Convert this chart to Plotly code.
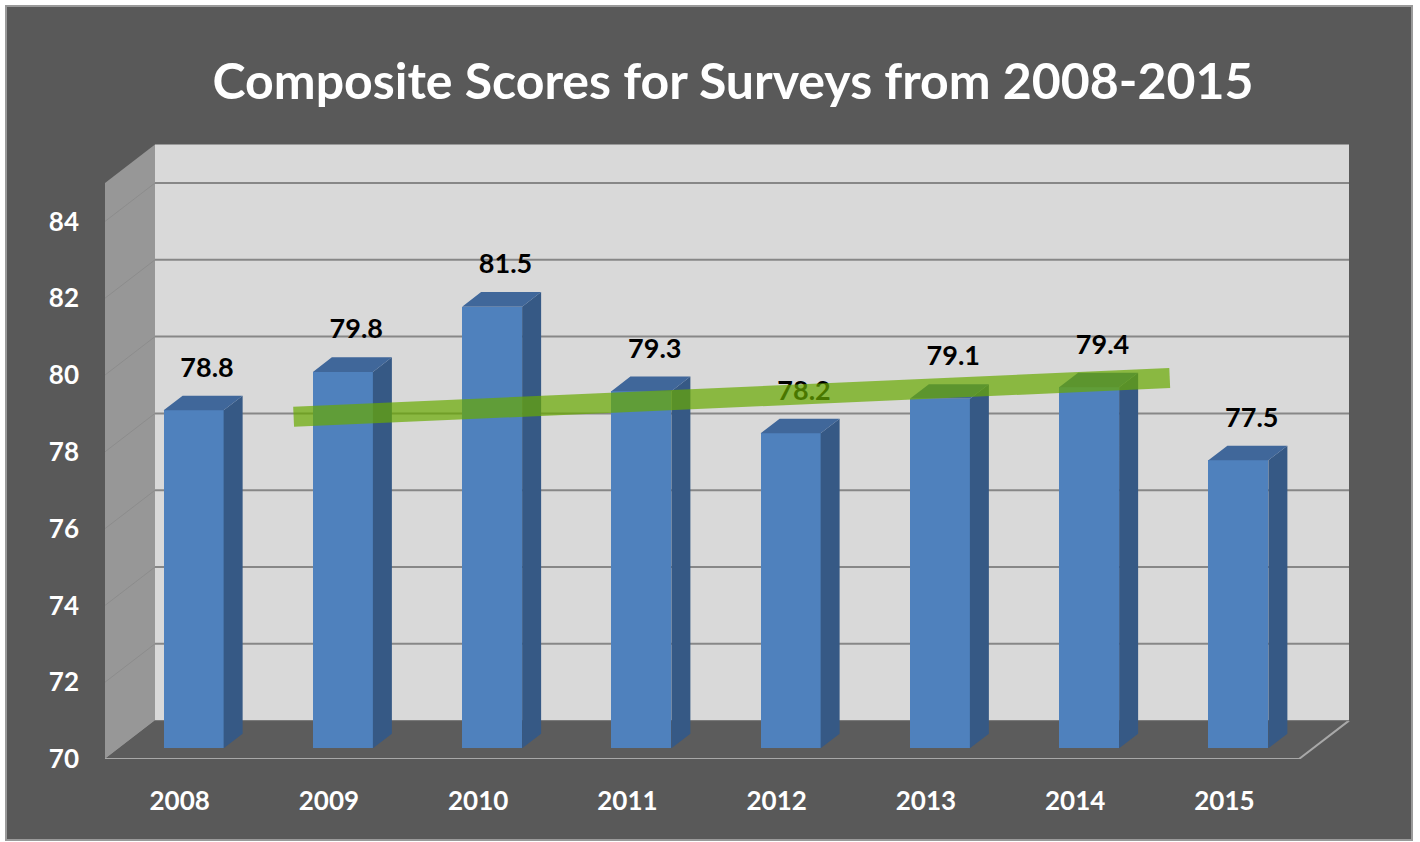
import plotly.graph_objects as go

# ---- data -------------------------------------------------------------
years = ["2008", "2009", "2010", "2011", "2012", "2013", "2014", "2015"]
scores = [78.8, 79.8, 81.5, 79.3, 78.2, 79.1, 79.4, 77.5]
y_ticks = [70, 72, 74, 76, 78, 80, 82, 84]
# green trend band: start/end position (category index) and score
trend_pos = [0.67, 6.54]
trend_scores = [78.63, 79.64]

title = "Composite Scores for Surveys from 2008-2015"

# ---- geometry of the pseudo-3D box ------------------------------------
W, H = 1420, 842
M_L, M_R, M_T, M_B = 105, 20, 120, 83
PX_CAT = 149.25          # pixels per category on the front plane
PX_UNIT = 38.4           # pixels per score unit
Y_BASE = 70
WALL_TOP = 85
x_rng = [-0.5, -0.5 + (W - M_L - M_R) / PX_CAT]
y_rng = [Y_BASE, Y_BASE + (H - M_T - M_B) / PX_UNIT]

DX_WALL = 50 / PX_CAT     # depth offset of back wall (x, in categories)
DY_WALL = 38.4 / PX_UNIT  # depth offset of back wall (y, in score units)
F_FRONT, F_BACK = 0.28, 0.66   # bar front/back planes as fraction of depth
BAR_W = 60 / PX_CAT

n = len(years)
x_lo, x_hi = -0.5, n - 0.5

C_BG = "#595959"
C_WALL = "#d9d9d9"
C_SIDEWALL = "#979797"
C_GRID = "#878787"
C_FRONT = "#4f81bd"
C_SIDE = "#365985"
C_TOP = "#40679a"

fig = go.Figure()
shapes = []


def px_to_paper(px, py):
    return (px - M_L) / (W - M_L - M_R), (H - M_B - py) / (H - M_T - M_B)


# outer chart frame
fx0, fy0 = px_to_paper(6, 840)
fx1, fy1 = px_to_paper(1412, 6)
shapes.append(dict(type="rect", xref="paper", yref="paper", x0=fx0, y0=fy0,
                   x1=fx1, y1=fy1, fillcolor=C_BG,
                   line=dict(color="#9a9a9a", width=2), layer="below"))

# back wall
shapes.append(dict(type="rect", xref="x", yref="y",
                   x0=x_lo + DX_WALL, x1=x_hi + DX_WALL,
                   y0=Y_BASE + DY_WALL, y1=WALL_TOP + DY_WALL,
                   fillcolor=C_WALL, line=dict(width=0), layer="below"))
# left side wall
shapes.append(dict(type="path", xref="x", yref="y",
                   path=(f"M{x_lo},{Y_BASE} L{x_lo},{WALL_TOP} "
                         f"L{x_lo + DX_WALL},{WALL_TOP + DY_WALL} "
                         f"L{x_lo + DX_WALL},{Y_BASE + DY_WALL} Z"),
                   fillcolor=C_SIDEWALL, line=dict(width=0), layer="below"))
# floor
shapes.append(dict(type="path", xref="x", yref="y",
                   path=(f"M{x_lo},{Y_BASE} L{x_hi},{Y_BASE} "
                         f"L{x_hi + DX_WALL},{Y_BASE + DY_WALL} "
                         f"L{x_lo + DX_WALL},{Y_BASE + DY_WALL} Z"),
                   fillcolor="#5c5c5c", line=dict(width=0), layer="below"))
# floor edges
shapes.append(dict(type="path", xref="x", yref="y",
                   path=(f"M{x_lo},{Y_BASE} L{x_hi},{Y_BASE} "
                         f"L{x_hi + DX_WALL},{Y_BASE + DY_WALL}"),
                   line=dict(color="#a8a8a8", width=2), layer="below"))

# gridlines on back wall and side wall
for v in y_ticks[1:]:
    shapes.append(dict(type="line", xref="x", yref="y",
                       x0=x_lo + DX_WALL, x1=x_hi + DX_WALL,
                       y0=v + DY_WALL, y1=v + DY_WALL,
                       line=dict(color=C_GRID, width=2), layer="below"))
    shapes.append(dict(type="line", xref="x", yref="y",
                       x0=x_lo, x1=x_lo + DX_WALL,
                       y0=v, y1=v + DY_WALL,
                       line=dict(color="#8c8c8c", width=1), layer="below"))
# back edge of the floor
shapes.append(dict(type="line", xref="x", yref="y",
                   x0=x_lo + DX_WALL, x1=x_hi + DX_WALL,
                   y0=Y_BASE + DY_WALL, y1=Y_BASE + DY_WALL,
                   line=dict(color="#7a7a7a", width=1), layer="below"))

# ---- bars ---------------------------------------------------------------
dxf, dyf = F_FRONT * DX_WALL, F_FRONT * DY_WALL
dxb, dyb = F_BACK * DX_WALL, F_BACK * DY_WALL

side_x, side_y, top_x, top_y = [], [], [], []
for i, v in enumerate(scores):
    xl = i + dxf - BAR_W / 2
    xr = i + dxf + BAR_W / 2
    ddx, ddy = dxb - dxf, dyb - dyf
    # right side face
    side_x += [xr, xr + ddx, xr + ddx, xr, xr, None]
    side_y += [Y_BASE + dyf, Y_BASE + dyf + ddy, v + dyf + ddy, v + dyf,
               Y_BASE + dyf, None]
    # top face
    top_x += [xl, xr, xr + ddx, xl + ddx, xl, None]
    top_y += [v + dyf, v + dyf, v + dyf + ddy, v + dyf + ddy, v + dyf, None]

fig.add_trace(go.Scatter(x=side_x, y=side_y, mode="lines", fill="toself",
                         fillcolor=C_SIDE, line=dict(width=0),
                         hoverinfo="skip", showlegend=False))
fig.add_trace(go.Scatter(x=top_x, y=top_y, mode="lines", fill="toself",
                         fillcolor=C_TOP, line=dict(width=0),
                         hoverinfo="skip", showlegend=False))
fig.add_trace(go.Bar(x=[i + dxf for i in range(n)],
                     y=[v - Y_BASE for v in scores],
                     base=Y_BASE + dyf, width=BAR_W,
                     marker=dict(color=C_FRONT, line=dict(width=0)),
                     showlegend=False, name="Composite score"))

# value labels
fig.add_trace(go.Scatter(x=[i + dxf + 0.09 for i in range(n)],
                         y=[v + dyf + 1.05 for v in scores],
                         mode="text", text=[f"{v:.1f}" for v in scores],
                         textposition="middle center",
                         textfont=dict(family="Lato", size=27, color="black",
                                       weight="bold"),
                         hoverinfo="skip", showlegend=False))

# trend band
fig.add_trace(go.Scatter(x=[p + dxf for p in trend_pos],
                         y=[s + dyf for s in trend_scores],
                         mode="lines",
                         line=dict(color="rgba(104,170,0,0.7)", width=20),
                         hoverinfo="skip", showlegend=False))

fig.update_layout(
    width=W, height=H, autosize=False,
    margin=dict(l=M_L, r=M_R, t=M_T, b=M_B),
    paper_bgcolor="white", plot_bgcolor="rgba(0,0,0,0)",
    shapes=shapes,
    bargap=0,
    title=dict(text=title, xref="container", yref="container",
               x=733 / W, y=1 - 81 / H, xanchor="center", yanchor="middle",
               font=dict(family="Lato", size=50, color="white",
                         weight="bold")),
    xaxis=dict(range=x_rng, tickvals=list(range(n)), ticktext=years,
               showgrid=False, zeroline=False, showline=False,
               ticks="", ticklabelstandoff=24,
               tickfont=dict(family="Lato", size=26, color="white",
                             weight="bold")),
    yaxis=dict(range=y_rng, tickvals=y_ticks,
               showgrid=False, zeroline=False, showline=False,
               ticks="", ticklabelstandoff=25,
               tickfont=dict(family="Lato", size=26, color="white",
                             weight="bold")),
)

fig.write_html("out.html")
